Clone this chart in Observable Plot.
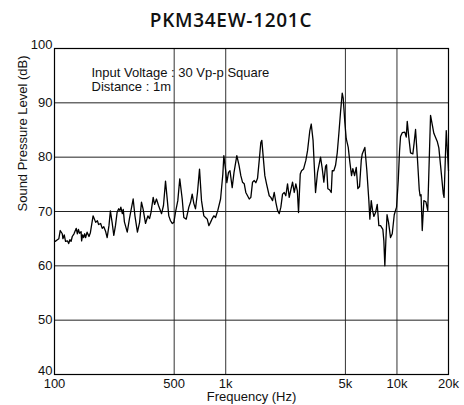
<!DOCTYPE html>
<html>
<head>
<meta charset="utf-8">
<script src="https://cdn.jsdelivr.net/npm/d3@7"></script>
<script src="https://cdn.jsdelivr.net/npm/@observablehq/plot@0.6"></script>
<style>
  html, body { margin: 0; padding: 0; background: #fff; }
  #title { width: 464px; height: 32px; box-sizing: border-box; padding-top: 8px; padding-right: 2px;
    font: 600 19px/24px "Open Sans", "Liberation Sans", sans-serif; letter-spacing: 0.7px; text-align: center; color: #111; }
</style>
</head>
<body>
<div id="title">PKM34EW-1201C</div>
<div id="chart"></div>
<script>
const titleText = "PKM34EW-1201C";
const noteLines = ["Input Voltage : 30 Vp-p Square", "Distance : 1m"];
const xLabel = "Frequency (Hz)";
const yLabel = "Sound Pressure Level (dB)";
const xTicks = [100, 500, 1000, 5000, 10000, 20000];
const xTickLabels = ["100", "500", "1k", "5k", "10k", "20k"];
const yTicks = [40, 50, 60, 70, 80, 90, 100];

const freq = [
  101,104,106,108,111,112,114,116,119,121,
  123,125,127,130,134,136,138,140,143,144,
  146,148,150,152,155,159,162,168,174,178,
  181,186,190,194,199,203,208,212,217,222,
  227,232,237,241,244,249,252,256,266,274,
  288,295,305,314,322,329,340,351,359,366,
  377,384,394,405,422,433,445,454,465,476,
  487,498,509,525,539,557,569,588,609,623,
  637,651,666,684,703,722,745,762,780,797,
  815,834,852,872,899,933,962,975,997,1015,
  1038,1059,1091,1118,1161,1196,1225,1253,1283,1310,
  1341,1372,1402,1434,1467,1499,1534,1569,1603,1625,
  1656,1692,1731,1795,1834,1877,1920,1962,2007,2054,
  2099,2147,2196,2244,2296,2349,2400,2456,2513,2567,
  2620,2662,2724,2772,2847,2937,3005,3099,3158,3236,
  3346,3437,3579,3662,3741,3828,3880,3948,4039,4133,
  4189,4280,4379,4480,4577,4683,4791,4856,4962,5056,
  5194,5307,5430,5526,5654,5785,5911,6047,6187,6271,
  6494,6671,6853,6946,7078,7203,7330,7499,7672,7839,
  8020,8272,8384,8497,8612,8752,8930,9173,9386,9643,
  9946,10176,10356,10496,10739,11120,11332,11485,11735,12006,
  12383,12585,12842,13191,13496,13642,13827,14052,14358,14749,
  15130,15711,16074,16423,17192,17566,17972,18638,18839,19406,
  19801,20000
];
const spl = [
  64.5,64.8,65.0,66.5,65.9,65.0,65.7,64.5,64.6,64.1,
  64.8,64.5,65.4,65.9,66.9,65.9,66.7,66.0,66.3,64.6,
  65.7,65.2,65.9,65.2,66.2,65.4,66.1,69.2,68.0,68.3,
  67.6,67.8,66.9,67.2,66.3,65.2,67.4,70.1,68.0,65.6,
  67.4,69.8,70.5,70.2,70.8,69.6,70.4,68.1,66.2,68.7,
  72.3,69.2,66.2,68.0,71.7,70.5,67.8,69.2,68.7,69.8,
  72.6,71.3,72.3,71.1,69.6,71.1,75.6,72.7,69.2,68.3,
  67.8,68.0,69.9,72.0,76.0,72.3,68.9,68.6,70.8,71.7,
  73.2,71.5,70.5,73.5,77.8,72.0,69.2,68.9,68.6,67.4,
  68.0,68.7,69.2,68.9,70.2,72.3,76.9,80.3,77.8,75.3,
  77.2,77.5,74.4,77.2,80.3,78.5,76.6,75.4,75.1,73.5,
  72.9,72.3,72.6,75.4,75.7,75.3,76.1,79.4,82.7,83.1,
  80.0,76.6,75.1,72.9,72.6,72.0,73.5,71.7,70.2,69.6,
  70.8,73.2,73.5,72.9,75.1,72.6,74.0,75.4,73.5,75.1,
  73.8,69.8,76.9,77.5,77.8,79.4,81.2,84.9,86.1,83.1,
  73.5,77.2,80.0,77.9,75.4,78.3,78.6,74.2,74.0,73.5,
  77.5,77.5,78.5,80.8,84.3,88.3,91.8,90.8,86.4,83.4,
  81.8,79.1,76.6,77.9,76.6,78.1,74.2,74.6,79.4,80.6,
  81.8,77.5,72.0,68.6,72.0,70.2,69.1,69.8,71.3,67.4,
  67.4,66.7,64.6,60.0,64.6,69.4,68.0,65.2,65.9,69.4,
  70.8,75.7,81.2,83.8,84.5,84.6,83.7,86.6,83.6,80.8,
  80.6,82.5,85.1,79.4,74.0,72.9,73.1,66.5,72.0,71.8,
  70.2,87.7,86.0,84.4,82.9,81.7,78.5,73.3,72.6,84.9,
  79.9,77.5
];

document.getElementById("title").textContent = titleText;
const data = freq.map((f, i) => ({f, db: spl[i]}));
const innerX = xTicks.slice(1, -1);
const innerY = yTicks.slice(1, -1);
const edgeY = [yTicks[0], yTicks[yTicks.length - 1]];

const chart = Plot.plot({
  width: 464,
  height: 373,
  marginTop: 16,
  marginBottom: 31,
  marginLeft: 54,
  marginRight: 16,
  style: {fontFamily: "'Liberation Sans', Arial, sans-serif", fontSize: "13px", color: "#111", background: "#fff", overflow: "visible"},
  x: {type: "log", domain: [100, 20000], axis: null},
  y: {domain: [40, 100]},
  marks: [
    Plot.ruleX(innerX, {stroke: "#333", strokeWidth: 1}),
    Plot.ruleY(innerY, {stroke: "#222", strokeWidth: 1}),
    Plot.frame({stroke: "#000", strokeWidth: 1.2}),
    Plot.line(data, {x: "f", y: "db", stroke: "#000", strokeWidth: 1.3, curve: "linear"}),
    Plot.text(xTicks, {x: d => d, text: (d, i) => xTickLabels[i], frameAnchor: "bottom", lineAnchor: "top", dy: 4, fill: "#111"}),
    Plot.axisY(innerY, {tickSize: 0, tickPadding: 2, label: null, fill: "#111"}),
    Plot.axisY(edgeY, {tickSize: 0, tickPadding: 2, label: null, dy: -4, fill: "#111"}),
    Plot.text([xLabel], {frameAnchor: "bottom", dy: 17.5, lineAnchor: "top", fill: "#111"}),
    Plot.text([yLabel], {frameAnchor: "left", rotate: -90, dx: -32, fill: "#111"}),
    Plot.text([noteLines.join("\n")], {frameAnchor: "top-left", textAnchor: "start", lineAnchor: "top", lineHeight: 1.1, dx: 37, dy: 18.5, fill: "#111"})
  ]
});
document.getElementById("chart").appendChild(chart);
</script>
</body>
</html>
